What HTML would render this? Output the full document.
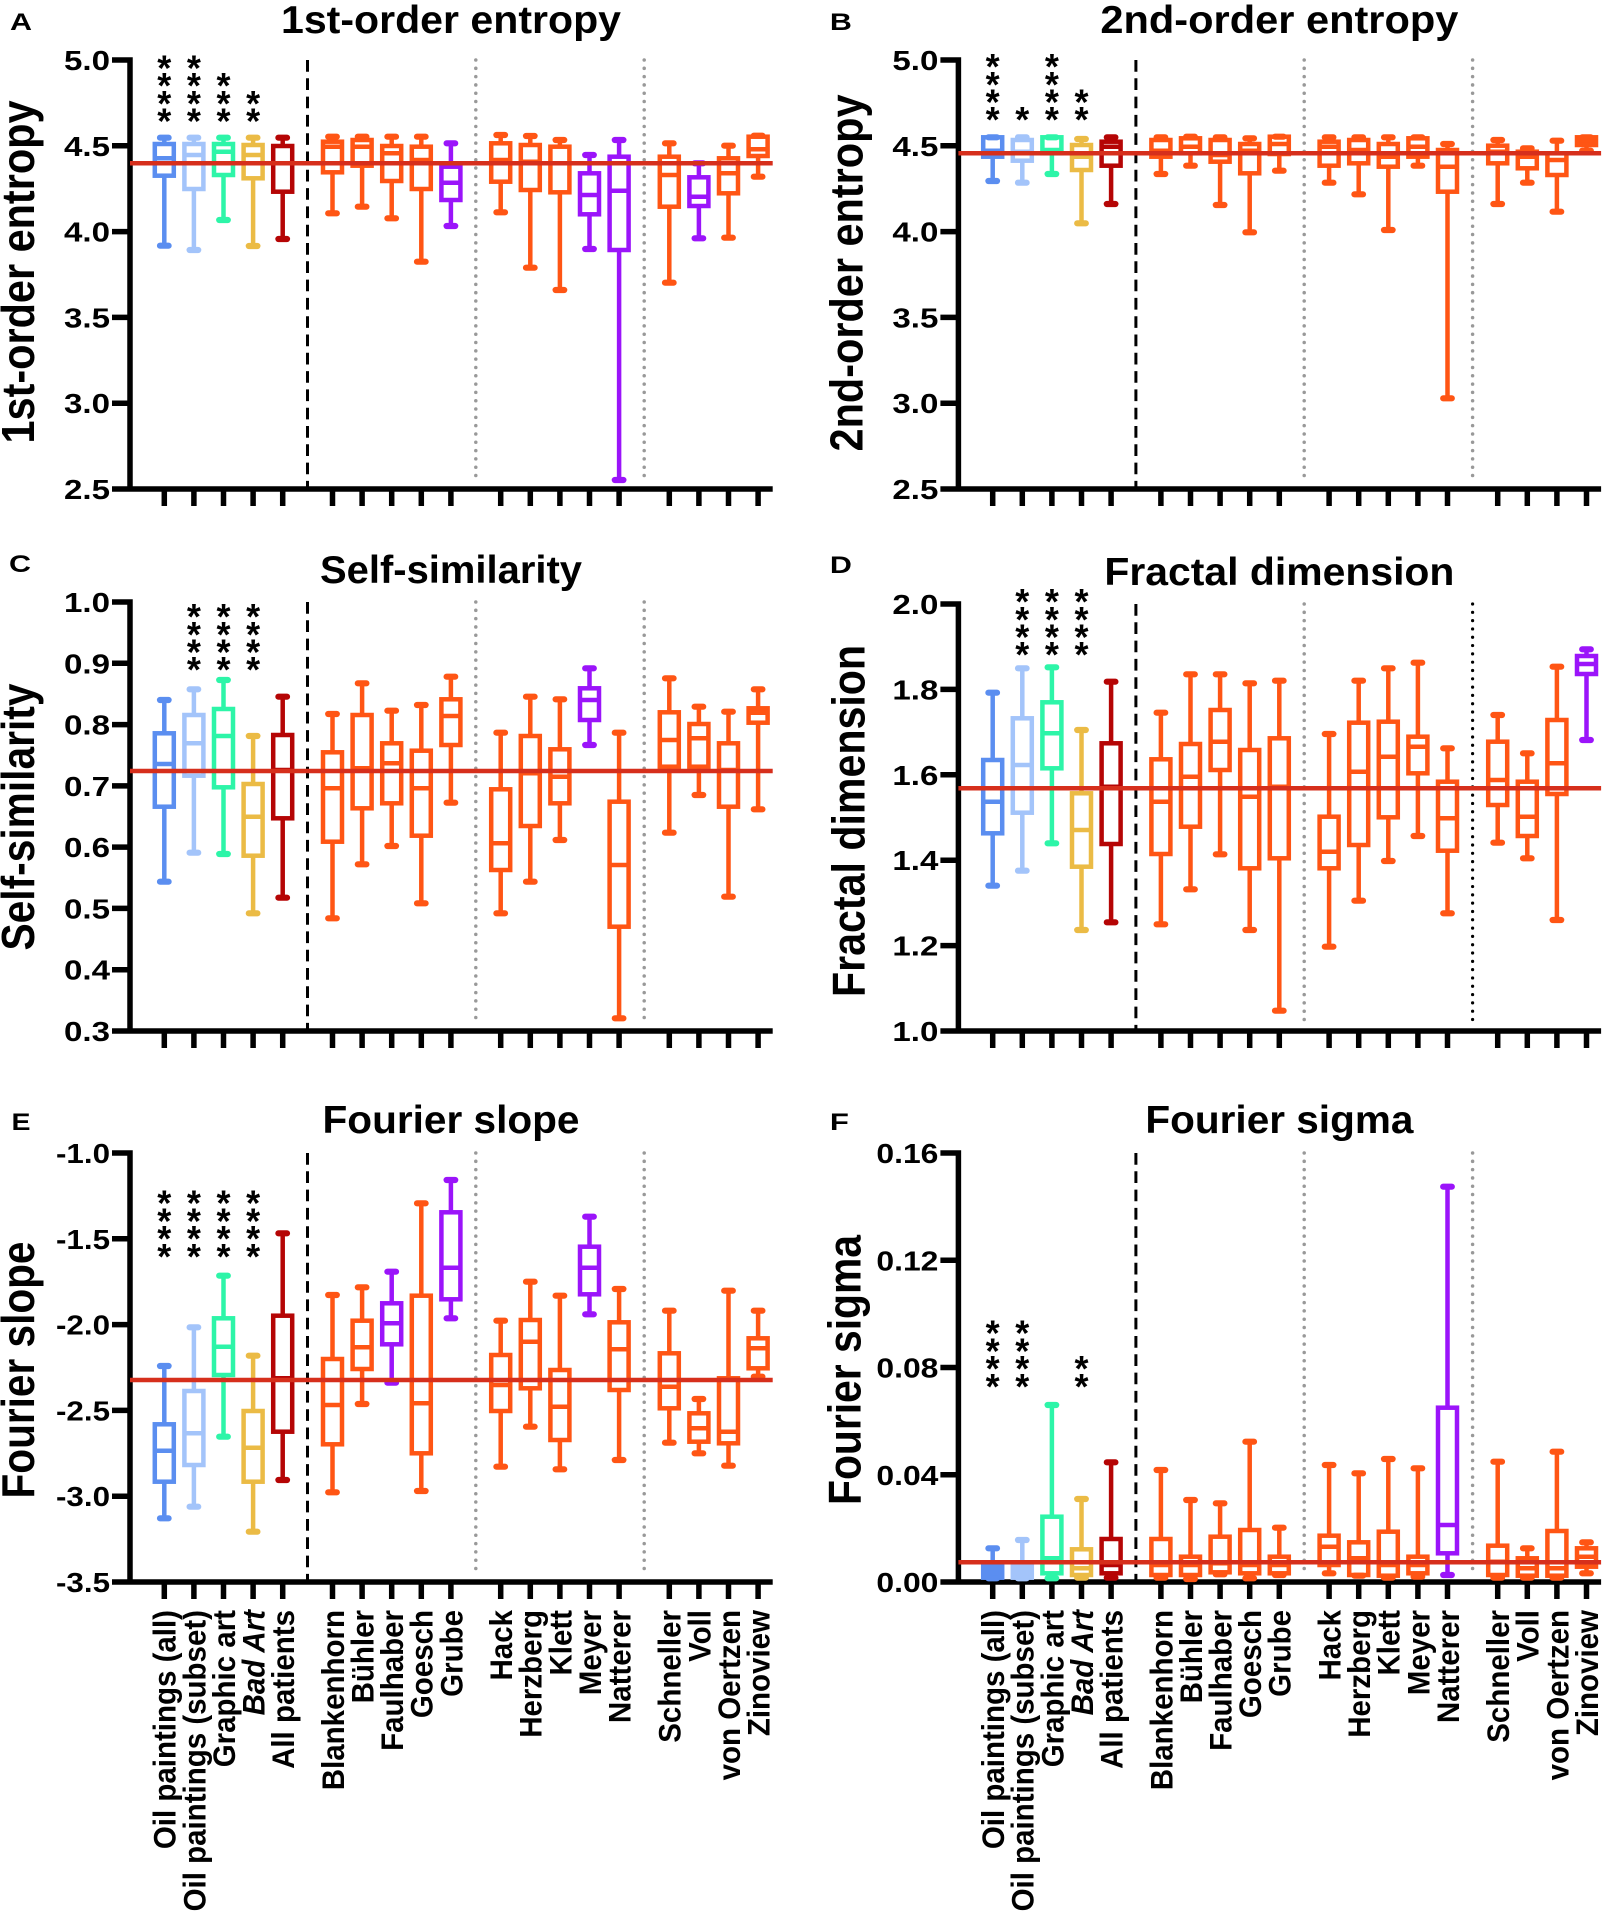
<!DOCTYPE html>
<html><head><meta charset="utf-8"><style>
body{margin:0;background:#fff}
svg{display:block}
text{font-family:"Liberation Sans",Arial,sans-serif;fill:#000}
.t{font-weight:bold;font-size:39px;text-anchor:middle}
.yl{font-weight:bold;font-size:41px;text-anchor:middle}
.tk{font-weight:bold;font-size:28px;text-anchor:end}
.xl{font-weight:bold;font-size:29.5px;text-anchor:end}
.s{font-size:36px;font-weight:bold;text-anchor:middle}
.L{font-weight:bold;font-size:24px}
.ax{fill:none;stroke:#000;stroke-width:5.5}
.bx path,.bx rect{fill:none;stroke-width:4.5}
.bx .c{stroke-width:6.2;stroke-linecap:round}
.ref{stroke:#D62F1C;stroke-width:4.5;fill:none}
.dash{stroke:#000;stroke-width:3;stroke-dasharray:11.7 6.6;fill:none}
.dot{stroke:#999;stroke-width:3.5;stroke-dasharray:0.01 8.3;stroke-linecap:round;fill:none}
.dotk{stroke:#000;stroke-width:3.2;stroke-dasharray:0.01 8.3;stroke-linecap:round;fill:none}
.b{stroke:#5B8EF0}.l{stroke:#A3C4FA}.g{stroke:#2DF5A8}.y{stroke:#EBBB45}.d{stroke:#B50505}.o{stroke:#FF5514}.p{stroke:#9B14FA}
</style></head><body>
<svg width="1617" height="1922" viewBox="0 0 1617 1922" xmlns="http://www.w3.org/2000/svg">

<!-- ================= LEFT COLUMN ================= -->
<g>
<!-- Panel A -->
<text class="L" x="10" y="30" textLength="22" lengthAdjust="spacingAndGlyphs">A</text>
<text class="t" x="451" y="33" textLength="340" lengthAdjust="spacingAndGlyphs">1st-order entropy</text>
<text class="yl" transform="translate(34,272) rotate(-90) scale(1,1.12)" textLength="343" lengthAdjust="spacingAndGlyphs">1st-order entropy</text>
<line class="dash" x1="307.5" y1="60" x2="307.5" y2="489"/>
<line class="dot" x1="475.8" y1="60" x2="475.8" y2="483"/>
<line class="dot" x1="644.2" y1="60" x2="644.2" y2="483"/>
<path class="ax" d="M130 57.25V491.75M112 489H772.7M112 60H130M112 145.8H130M112 231.6H130M112 317.4H130M112 403.2H130"/>
<path class="ax" transform="translate(0,489)" d="M164.3 0v17M193.9 0v17M223.5 0v17M253.1 0v17M282.7 0v17M332.5 0v17M362.1 0v17M391.7 0v17M421.3 0v17M450.9 0v17M500.7 0v17M530.3 0v17M559.9 0v17M589.5 0v17M619.1 0v17M669.3 0v17M698.9 0v17M728.5 0v17M758.1 0v17"/>
<text class="tk" x="110" y="70" textLength="46" lengthAdjust="spacingAndGlyphs">5.0</text>
<text class="tk" x="110" y="155.8" textLength="46" lengthAdjust="spacingAndGlyphs">4.5</text>
<text class="tk" x="110" y="241.6" textLength="46" lengthAdjust="spacingAndGlyphs">4.0</text>
<text class="tk" x="110" y="327.4" textLength="46" lengthAdjust="spacingAndGlyphs">3.5</text>
<text class="tk" x="110" y="413.2" textLength="46" lengthAdjust="spacingAndGlyphs">3.0</text>
<text class="tk" x="110" y="499" textLength="46" lengthAdjust="spacingAndGlyphs">2.5</text>
<text class="s" x="164.3 164.3 164.3 164.3" y="80.4 98.1 115.8 133.5">****</text>
<text class="s" x="193.9 193.9 193.9 193.9" y="80.4 98.1 115.8 133.5">****</text>
<text class="s" x="223.5 223.5 223.5" y="98.1 115.8 133.5">***</text>
<text class="s" x="253.1 253.1" y="115.8 133.5">**</text>
<g class="bx">
<g class="b"><path d="M164.3 137.7V144M164.3 175.7V245.7M154.8 158.3h19"/><rect x="154.8" y="144" width="19" height="31.7"/><path class="c" d="M160 137.7h8.6M160 245.7h8.6"/></g>
<g class="l"><path d="M193.9 137.7V144M193.9 189V250M184.4 155h19"/><rect x="184.4" y="144" width="19" height="45"/><path class="c" d="M189.6 137.7h8.6M189.6 250h8.6"/></g>
<g class="g"><path d="M223.5 137.7V144M223.5 175V220M214 151.7h19"/><rect x="214" y="144" width="19" height="31"/><path class="c" d="M219.2 137.7h8.6M219.2 220h8.6"/></g>
<g class="y"><path d="M253.1 137.7V145M253.1 178.3V246M243.6 155h19"/><rect x="243.6" y="145" width="19" height="33.3"/><path class="c" d="M248.8 137.7h8.6M248.8 246h8.6"/></g>
<g class="d"><path d="M282.7 137.7V146M282.7 191.7V239M273.2 163.3h19"/><rect x="273.2" y="146" width="19" height="45.7"/><path class="c" d="M278.4 137.7h8.6M278.4 239h8.6"/></g>
<g class="o"><path d="M332.5 136.7V141.7M332.5 172.3V213.3M323 146.7h19"/><rect x="323" y="141.7" width="19" height="30.6"/><path class="c" d="M328.2 136.7h8.6M328.2 213.3h8.6"/></g>
<g class="o"><path d="M362.1 136.7V140M362.1 165.7V206.7M352.6 146.7h19"/><rect x="352.6" y="140" width="19" height="25.7"/><path class="c" d="M357.8 136.7h8.6M357.8 206.7h8.6"/></g>
<g class="o"><path d="M391.7 136.7V146M391.7 181V218.3M382.2 153.3h19"/><rect x="382.2" y="146" width="19" height="35"/><path class="c" d="M387.4 136.7h8.6M387.4 218.3h8.6"/></g>
<g class="o"><path d="M421.3 136.7V146.7M421.3 189V261.7M411.8 160h19"/><rect x="411.8" y="146.7" width="19" height="42.3"/><path class="c" d="M417 136.7h8.6M417 261.7h8.6"/></g>
<g class="p"><path d="M450.9 143.3V166.7M450.9 200V226M441.4 182.7h19"/><rect x="441.4" y="166.7" width="19" height="33.3"/><path class="c" d="M446.6 143.3h8.6M446.6 226h8.6"/></g>
<g class="o"><path d="M500.7 135V143.3M500.7 181.7V212.3M491.2 160h19"/><rect x="491.2" y="143.3" width="19" height="38.4"/><path class="c" d="M496.4 135h8.6M496.4 212.3h8.6"/></g>
<g class="o"><path d="M530.3 136V145M530.3 190V267.7M520.8 161.7h19"/><rect x="520.8" y="145" width="19" height="45"/><path class="c" d="M526 136h8.6M526 267.7h8.6"/></g>
<g class="o"><path d="M559.9 140V146.7M559.9 192.3V290M550.4 163.3h19"/><rect x="550.4" y="146.7" width="19" height="45.6"/><path class="c" d="M555.6 140h8.6M555.6 290h8.6"/></g>
<g class="p"><path d="M589.5 155V173.3M589.5 214.3V249M580 195h19"/><rect x="580" y="173.3" width="19" height="41"/><path class="c" d="M585.2 155h8.6M585.2 249h8.6"/></g>
<g class="p"><path d="M619.1 140V156.7M619.1 250V480M609.6 190.7h19"/><rect x="609.6" y="156.7" width="19" height="93.3"/><path class="c" d="M614.8 140h8.6M614.8 480h8.6"/></g>
<g class="o"><path d="M669.3 143.3V156.7M669.3 206.7V282.7M659.8 175h19"/><rect x="659.8" y="156.7" width="19" height="50"/><path class="c" d="M665 143.3h8.6M665 282.7h8.6"/></g>
<g class="p"><path d="M698.9 163.3V177.3M698.9 206V238.3M689.4 196.7h19"/><rect x="689.4" y="177.3" width="19" height="28.7"/><path class="c" d="M694.6 163.3h8.6M694.6 238.3h8.6"/></g>
<g class="o"><path d="M728.5 145.7V158.3M728.5 193.3V237.7M719 173.3h19"/><rect x="719" y="158.3" width="19" height="35"/><path class="c" d="M724.2 145.7h8.6M724.2 237.7h8.6"/></g>
<g class="o"><path d="M758.1 135.7V136.7M758.1 156V176.7M748.6 149.3h19"/><rect x="748.6" y="136.7" width="19" height="19.3"/><path class="c" d="M753.8 135.7h8.6M753.8 176.7h8.6"/></g>
</g>
<path class="ref" d="M130 163.3H772.7"/>

<!-- Panel C -->
<text class="L" x="9" y="572" textLength="22" lengthAdjust="spacingAndGlyphs">C</text>
<text class="t" x="451" y="583" textLength="262" lengthAdjust="spacingAndGlyphs">Self-similarity</text>
<text class="yl" transform="translate(34,817) rotate(-90) scale(1,1.12)" textLength="267" lengthAdjust="spacingAndGlyphs">Self-similarity</text>
<line class="dash" x1="307.5" y1="602" x2="307.5" y2="1031"/>
<line class="dot" x1="475.8" y1="602" x2="475.8" y2="1025"/>
<line class="dot" x1="644.2" y1="602" x2="644.2" y2="1025"/>
<path class="ax" d="M130 599.25V1033.75M112 1031H772.7M112 602H130M112 663.3H130M112 724.6H130M112 785.9H130M112 847.1H130M112 908.4H130M112 969.7H130"/>
<path class="ax" transform="translate(0,1031)" d="M164.3 0v17M193.9 0v17M223.5 0v17M253.1 0v17M282.7 0v17M332.5 0v17M362.1 0v17M391.7 0v17M421.3 0v17M450.9 0v17M500.7 0v17M530.3 0v17M559.9 0v17M589.5 0v17M619.1 0v17M669.3 0v17M698.9 0v17M728.5 0v17M758.1 0v17"/>
<text class="tk" x="110" y="612" textLength="46" lengthAdjust="spacingAndGlyphs">1.0</text>
<text class="tk" x="110" y="673.3" textLength="46" lengthAdjust="spacingAndGlyphs">0.9</text>
<text class="tk" x="110" y="734.6" textLength="46" lengthAdjust="spacingAndGlyphs">0.8</text>
<text class="tk" x="110" y="795.9" textLength="46" lengthAdjust="spacingAndGlyphs">0.7</text>
<text class="tk" x="110" y="857.1" textLength="46" lengthAdjust="spacingAndGlyphs">0.6</text>
<text class="tk" x="110" y="918.4" textLength="46" lengthAdjust="spacingAndGlyphs">0.5</text>
<text class="tk" x="110" y="979.7" textLength="46" lengthAdjust="spacingAndGlyphs">0.4</text>
<text class="tk" x="110" y="1041" textLength="46" lengthAdjust="spacingAndGlyphs">0.3</text>
<text class="s" x="193.9 193.9 193.9 193.9" y="629.1 646.8 664.5 682.2">****</text>
<text class="s" x="223.5 223.5 223.5 223.5" y="629.1 646.8 664.5 682.2">****</text>
<text class="s" x="253.1 253.1 253.1 253.1" y="629.1 646.8 664.5 682.2">****</text>
<g class="bx">
<g class="b"><path d="M164.3 700V733.3M164.3 806.7V881.7M154.8 764h19"/><rect x="154.8" y="733.3" width="19" height="73.4"/><path class="c" d="M160 700h8.6M160 881.7h8.6"/></g>
<g class="l"><path d="M193.9 689.3V715M193.9 775.7V852.7M184.4 743.3h19"/><rect x="184.4" y="715" width="19" height="60.7"/><path class="c" d="M189.6 689.3h8.6M189.6 852.7h8.6"/></g>
<g class="g"><path d="M223.5 680V709M223.5 787.3V854M214 736h19"/><rect x="214" y="709" width="19" height="78.3"/><path class="c" d="M219.2 680h8.6M219.2 854h8.6"/></g>
<g class="y"><path d="M253.1 736V784M253.1 855.7V913.3M243.6 816.7h19"/><rect x="243.6" y="784" width="19" height="71.7"/><path class="c" d="M248.8 736h8.6M248.8 913.3h8.6"/></g>
<g class="d"><path d="M282.7 696.7V735M282.7 818.3V897.7M273.2 770h19"/><rect x="273.2" y="735" width="19" height="83.3"/><path class="c" d="M278.4 696.7h8.6M278.4 897.7h8.6"/></g>
<g class="o"><path d="M332.5 714V752.3M332.5 841.7V918.3M323 788.3h19"/><rect x="323" y="752.3" width="19" height="89.4"/><path class="c" d="M328.2 714h8.6M328.2 918.3h8.6"/></g>
<g class="o"><path d="M362.1 683.3V715M362.1 808.3V864.3M352.6 768.3h19"/><rect x="352.6" y="715" width="19" height="93.3"/><path class="c" d="M357.8 683.3h8.6M357.8 864.3h8.6"/></g>
<g class="o"><path d="M391.7 710.7V743.3M391.7 803.3V846M382.2 763.3h19"/><rect x="382.2" y="743.3" width="19" height="60"/><path class="c" d="M387.4 710.7h8.6M387.4 846h8.6"/></g>
<g class="o"><path d="M421.3 705V750.7M421.3 835.7V903.3M411.8 788.3h19"/><rect x="411.8" y="750.7" width="19" height="85"/><path class="c" d="M417 705h8.6M417 903.3h8.6"/></g>
<g class="o"><path d="M450.9 676.7V699.3M450.9 745V802.7M441.4 716h19"/><rect x="441.4" y="699.3" width="19" height="45.7"/><path class="c" d="M446.6 676.7h8.6M446.6 802.7h8.6"/></g>
<g class="o"><path d="M500.7 732.7V789.3M500.7 870V913.3M491.2 843.3h19"/><rect x="491.2" y="789.3" width="19" height="80.7"/><path class="c" d="M496.4 732.7h8.6M496.4 913.3h8.6"/></g>
<g class="o"><path d="M530.3 696.7V736M530.3 826V881.7M520.8 773.3h19"/><rect x="520.8" y="736" width="19" height="90"/><path class="c" d="M526 696.7h8.6M526 881.7h8.6"/></g>
<g class="o"><path d="M559.9 699.3V749.3M559.9 803.3V840M550.4 776.7h19"/><rect x="550.4" y="749.3" width="19" height="54"/><path class="c" d="M555.6 699.3h8.6M555.6 840h8.6"/></g>
<g class="p"><path d="M589.5 668.3V688.3M589.5 720V745M580 700h19"/><rect x="580" y="688.3" width="19" height="31.7"/><path class="c" d="M585.2 668.3h8.6M585.2 745h8.6"/></g>
<g class="o"><path d="M619.1 732.7V801.7M619.1 926.7V1018.3M609.6 865h19"/><rect x="609.6" y="801.7" width="19" height="125"/><path class="c" d="M614.8 732.7h8.6M614.8 1018.3h8.6"/></g>
<g class="o"><path d="M669.3 678.3V712.3M669.3 766.7V832.7M659.8 740h19"/><rect x="659.8" y="712.3" width="19" height="54.4"/><path class="c" d="M665 678.3h8.6M665 832.7h8.6"/></g>
<g class="o"><path d="M698.9 706.7V724M698.9 766.7V795M689.4 738.3h19"/><rect x="689.4" y="724" width="19" height="42.7"/><path class="c" d="M694.6 706.7h8.6M694.6 795h8.6"/></g>
<g class="o"><path d="M728.5 711.7V743.3M728.5 806.7V896.7M719 770h19"/><rect x="719" y="743.3" width="19" height="63.4"/><path class="c" d="M724.2 711.7h8.6M724.2 896.7h8.6"/></g>
<g class="o"><path d="M758.1 689.3V708.3M758.1 722.7V809.3M748.6 712.7h19"/><rect x="748.6" y="708.3" width="19" height="14.4"/><path class="c" d="M753.8 689.3h8.6M753.8 809.3h8.6"/></g>
</g>
<path class="ref" d="M130 771H772.7"/>

<!-- Panel E -->
<text class="L" x="11.5" y="1130" textLength="19" lengthAdjust="spacingAndGlyphs">E</text>
<text class="t" x="451" y="1133" textLength="257" lengthAdjust="spacingAndGlyphs">Fourier slope</text>
<text class="yl" transform="translate(34,1370) rotate(-90) scale(1,1.12)" textLength="257" lengthAdjust="spacingAndGlyphs">Fourier slope</text>
<line class="dash" x1="307.5" y1="1153" x2="307.5" y2="1582"/>
<line class="dot" x1="475.8" y1="1153" x2="475.8" y2="1576"/>
<line class="dot" x1="644.2" y1="1153" x2="644.2" y2="1576"/>
<path class="ax" d="M130 1150.25V1584.75M112 1582H772.7M112 1153H130M112 1238.8H130M112 1324.6H130M112 1410.4H130M112 1496.2H130"/>
<path class="ax" transform="translate(0,1582)" d="M164.3 0v17M193.9 0v17M223.5 0v17M253.1 0v17M282.7 0v17M332.5 0v17M362.1 0v17M391.7 0v17M421.3 0v17M450.9 0v17M500.7 0v17M530.3 0v17M559.9 0v17M589.5 0v17M619.1 0v17M669.3 0v17M698.9 0v17M728.5 0v17M758.1 0v17"/>
<text class="tk" x="110" y="1163" textLength="54" lengthAdjust="spacingAndGlyphs">-1.0</text>
<text class="tk" x="110" y="1248.8" textLength="54" lengthAdjust="spacingAndGlyphs">-1.5</text>
<text class="tk" x="110" y="1334.6" textLength="54" lengthAdjust="spacingAndGlyphs">-2.0</text>
<text class="tk" x="110" y="1420.4" textLength="54" lengthAdjust="spacingAndGlyphs">-2.5</text>
<text class="tk" x="110" y="1506.2" textLength="54" lengthAdjust="spacingAndGlyphs">-3.0</text>
<text class="tk" x="110" y="1592" textLength="54" lengthAdjust="spacingAndGlyphs">-3.5</text>
<text class="s" x="164.3 164.3 164.3 164.3" y="1215.7 1233.4 1251.1 1268.8">****</text>
<text class="s" x="193.9 193.9 193.9 193.9" y="1215.7 1233.4 1251.1 1268.8">****</text>
<text class="s" x="223.5 223.5 223.5 223.5" y="1215.7 1233.4 1251.1 1268.8">****</text>
<text class="s" x="253.1 253.1 253.1 253.1" y="1215.7 1233.4 1251.1 1268.8">****</text>
<g class="bx">
<g class="b"><path d="M164.3 1366V1424.3M164.3 1481.7V1518.3M154.8 1450.7h19"/><rect x="154.8" y="1424.3" width="19" height="57.4"/><path class="c" d="M160 1366h8.6M160 1518.3h8.6"/></g>
<g class="l"><path d="M193.9 1327.3V1391M193.9 1465V1506.7M184.4 1433.3h19"/><rect x="184.4" y="1391" width="19" height="74"/><path class="c" d="M189.6 1327.3h8.6M189.6 1506.7h8.6"/></g>
<g class="g"><path d="M223.5 1275.7V1318.3M223.5 1375V1436.7M214 1346.7h19"/><rect x="214" y="1318.3" width="19" height="56.7"/><path class="c" d="M219.2 1275.7h8.6M219.2 1436.7h8.6"/></g>
<g class="y"><path d="M253.1 1355.7V1411M253.1 1481.7V1531.7M243.6 1447.7h19"/><rect x="243.6" y="1411" width="19" height="70.7"/><path class="c" d="M248.8 1355.7h8.6M248.8 1531.7h8.6"/></g>
<g class="d"><path d="M282.7 1233.3V1315.7M282.7 1431.7V1480M273.2 1378.3h19"/><rect x="273.2" y="1315.7" width="19" height="116"/><path class="c" d="M278.4 1233.3h8.6M278.4 1480h8.6"/></g>
<g class="o"><path d="M332.5 1295V1359M332.5 1444.3V1492.3M323 1405h19"/><rect x="323" y="1359" width="19" height="85.3"/><path class="c" d="M328.2 1295h8.6M328.2 1492.3h8.6"/></g>
<g class="o"><path d="M362.1 1287.3V1320.7M362.1 1369V1404M352.6 1347.3h19"/><rect x="352.6" y="1320.7" width="19" height="48.3"/><path class="c" d="M357.8 1287.3h8.6M357.8 1404h8.6"/></g>
<g class="p"><path d="M391.7 1271.7V1303.3M391.7 1344.3V1382.7M382.2 1323.3h19"/><rect x="382.2" y="1303.3" width="19" height="41"/><path class="c" d="M387.4 1271.7h8.6M387.4 1382.7h8.6"/></g>
<g class="o"><path d="M421.3 1203.3V1295.7M421.3 1453.3V1491M411.8 1403.3h19"/><rect x="411.8" y="1295.7" width="19" height="157.6"/><path class="c" d="M417 1203.3h8.6M417 1491h8.6"/></g>
<g class="p"><path d="M450.9 1180V1212.3M450.9 1299.3V1318.3M441.4 1267.7h19"/><rect x="441.4" y="1212.3" width="19" height="87"/><path class="c" d="M446.6 1180h8.6M446.6 1318.3h8.6"/></g>
<g class="o"><path d="M500.7 1320.7V1355M500.7 1411V1466.7M491.2 1385h19"/><rect x="491.2" y="1355" width="19" height="56"/><path class="c" d="M496.4 1320.7h8.6M496.4 1466.7h8.6"/></g>
<g class="o"><path d="M530.3 1281.7V1320M530.3 1388.3V1426.7M520.8 1341.7h19"/><rect x="520.8" y="1320" width="19" height="68.3"/><path class="c" d="M526 1281.7h8.6M526 1426.7h8.6"/></g>
<g class="o"><path d="M559.9 1295.7V1370M559.9 1440V1469.3M550.4 1406.7h19"/><rect x="550.4" y="1370" width="19" height="70"/><path class="c" d="M555.6 1295.7h8.6M555.6 1469.3h8.6"/></g>
<g class="p"><path d="M589.5 1216.7V1246.7M589.5 1294.3V1314.3M580 1267.7h19"/><rect x="580" y="1246.7" width="19" height="47.6"/><path class="c" d="M585.2 1216.7h8.6M585.2 1314.3h8.6"/></g>
<g class="o"><path d="M619.1 1289V1322.3M619.1 1390V1460M609.6 1349.3h19"/><rect x="609.6" y="1322.3" width="19" height="67.7"/><path class="c" d="M614.8 1289h8.6M614.8 1460h8.6"/></g>
<g class="o"><path d="M669.3 1310.7V1353.3M669.3 1408.3V1442.7M659.8 1386.7h19"/><rect x="659.8" y="1353.3" width="19" height="55"/><path class="c" d="M665 1310.7h8.6M665 1442.7h8.6"/></g>
<g class="o"><path d="M698.9 1399V1413.3M698.9 1441.7V1453.3M689.4 1428.3h19"/><rect x="689.4" y="1413.3" width="19" height="28.4"/><path class="c" d="M694.6 1399h8.6M694.6 1453.3h8.6"/></g>
<g class="o"><path d="M728.5 1290.7V1378.3M728.5 1443.3V1465.7M719 1431.7h19"/><rect x="719" y="1378.3" width="19" height="65"/><path class="c" d="M724.2 1290.7h8.6M724.2 1465.7h8.6"/></g>
<g class="o"><path d="M758.1 1310.7V1338.3M758.1 1368.3V1376.7M748.6 1348.3h19"/><rect x="748.6" y="1338.3" width="19" height="30"/><path class="c" d="M753.8 1310.7h8.6M753.8 1376.7h8.6"/></g>
</g>
<path class="ref" d="M130 1380H772.7"/>

<!-- X labels left -->
<g>
<text class="xl" transform="translate(175.7,1610) rotate(-90) scale(1,1.08)">Oil paintings (all)</text>
<text class="xl" transform="translate(205.3,1610) rotate(-90) scale(1,1.08)">Oil paintings (subset)</text>
<text class="xl" transform="translate(234.9,1610) rotate(-90) scale(1,1.08)">Graphic art</text>
<text class="xl" transform="translate(264.5,1610) rotate(-90) scale(1,1.08)" font-style="italic">Bad Art</text>
<text class="xl" transform="translate(294.1,1610) rotate(-90) scale(1,1.08)">All patients</text>
<text class="xl" transform="translate(343.9,1610) rotate(-90) scale(1,1.08)">Blankenhorn</text>
<text class="xl" transform="translate(373.5,1610) rotate(-90) scale(1,1.08)">Bühler</text>
<text class="xl" transform="translate(403.1,1610) rotate(-90) scale(1,1.08)">Faulhaber</text>
<text class="xl" transform="translate(432.7,1610) rotate(-90) scale(1,1.08)">Goesch</text>
<text class="xl" transform="translate(462.3,1610) rotate(-90) scale(1,1.08)">Grube</text>
<text class="xl" transform="translate(512.1,1610) rotate(-90) scale(1,1.08)">Hack</text>
<text class="xl" transform="translate(541.7,1610) rotate(-90) scale(1,1.08)">Herzberg</text>
<text class="xl" transform="translate(571.3,1610) rotate(-90) scale(1,1.08)">Klett</text>
<text class="xl" transform="translate(600.9,1610) rotate(-90) scale(1,1.08)">Meyer</text>
<text class="xl" transform="translate(630.5,1610) rotate(-90) scale(1,1.08)">Natterer</text>
<text class="xl" transform="translate(680.7,1610) rotate(-90) scale(1,1.08)">Schneller</text>
<text class="xl" transform="translate(710.3,1610) rotate(-90) scale(1,1.08)">Voll</text>
<text class="xl" transform="translate(739.9,1610) rotate(-90) scale(1,1.08)">von Oertzen</text>
<text class="xl" transform="translate(769.5,1610) rotate(-90) scale(1,1.08)">Zinoview</text>
</g>
</g>

<!-- ================= RIGHT COLUMN ================= -->
<g transform="translate(828.4,0)">
<!-- Panel B -->
<text class="L" x="1.5" y="30" textLength="22" lengthAdjust="spacingAndGlyphs">B</text>
<text class="t" x="451" y="33" textLength="358" lengthAdjust="spacingAndGlyphs">2nd-order entropy</text>
<text class="yl" transform="translate(34,273) rotate(-90) scale(1,1.12)" textLength="357" lengthAdjust="spacingAndGlyphs">2nd-order entropy</text>
<line class="dash" x1="307.5" y1="60" x2="307.5" y2="489"/>
<line class="dot" x1="475.8" y1="60" x2="475.8" y2="483"/>
<line class="dot" x1="644.2" y1="60" x2="644.2" y2="483"/>
<path class="ax" d="M130 57.25V491.75M112 489H772.7M112 60H130M112 145.8H130M112 231.6H130M112 317.4H130M112 403.2H130"/>
<path class="ax" transform="translate(0,489)" d="M164.3 0v17M193.9 0v17M223.5 0v17M253.1 0v17M282.7 0v17M332.5 0v17M362.1 0v17M391.7 0v17M421.3 0v17M450.9 0v17M500.7 0v17M530.3 0v17M559.9 0v17M589.5 0v17M619.1 0v17M669.3 0v17M698.9 0v17M728.5 0v17M758.1 0v17"/>
<text class="tk" x="110" y="70" textLength="46" lengthAdjust="spacingAndGlyphs">5.0</text>
<text class="tk" x="110" y="155.8" textLength="46" lengthAdjust="spacingAndGlyphs">4.5</text>
<text class="tk" x="110" y="241.6" textLength="46" lengthAdjust="spacingAndGlyphs">4.0</text>
<text class="tk" x="110" y="327.4" textLength="46" lengthAdjust="spacingAndGlyphs">3.5</text>
<text class="tk" x="110" y="413.2" textLength="46" lengthAdjust="spacingAndGlyphs">3.0</text>
<text class="tk" x="110" y="499" textLength="46" lengthAdjust="spacingAndGlyphs">2.5</text>
<text class="s" x="164.3 164.3 164.3 164.3" y="79.1 96.8 114.5 132.2">****</text>
<text class="s" x="193.9" y="132.2">*</text>
<text class="s" x="223.5 223.5 223.5 223.5" y="79.1 96.8 114.5 132.2">****</text>
<text class="s" x="253.1 253.1" y="114.5 132.2">**</text>
<g class="bx">
<g class="b"><path d="M164.3 156.7V181M154.8 150.7h19"/><rect x="154.8" y="137.3" width="19" height="19.4"/><path class="c" d="M160 137.3h8.6M160 181h8.6"/></g>
<g class="l"><path d="M193.9 137.3V140M193.9 160.7V182.7M184.4 151.7h19"/><rect x="184.4" y="140" width="19" height="20.7"/><path class="c" d="M189.6 137.3h8.6M189.6 182.7h8.6"/></g>
<g class="g"><path d="M223.5 153.3V174M214 150h19"/><rect x="214" y="137.3" width="19" height="16"/><path class="c" d="M219.2 137.3h8.6M219.2 174h8.6"/></g>
<g class="y"><path d="M253.1 139V145M253.1 170V223.3M243.6 156.7h19"/><rect x="243.6" y="145" width="19" height="25"/><path class="c" d="M248.8 139h8.6M248.8 223.3h8.6"/></g>
<g class="d"><path d="M282.7 137.3V141.7M282.7 165.7V204M273.2 146.7h19"/><rect x="273.2" y="141.7" width="19" height="24"/><path class="c" d="M278.4 137.3h8.6M278.4 204h8.6"/></g>
<g class="o"><path d="M332.5 137.3V140M332.5 156.7V174M323 150.7h19"/><rect x="323" y="140" width="19" height="16.7"/><path class="c" d="M328.2 137.3h8.6M328.2 174h8.6"/></g>
<g class="o"><path d="M362.1 136.7V138.3M362.1 153.3V165.7M352.6 146.7h19"/><rect x="352.6" y="138.3" width="19" height="15"/><path class="c" d="M357.8 136.7h8.6M357.8 165.7h8.6"/></g>
<g class="o"><path d="M391.7 137.3V140M391.7 161.7V205M382.2 155h19"/><rect x="382.2" y="140" width="19" height="21.7"/><path class="c" d="M387.4 137.3h8.6M387.4 205h8.6"/></g>
<g class="o"><path d="M421.3 138.3V144M421.3 173.3V232.3M411.8 150.7h19"/><rect x="411.8" y="144" width="19" height="29.3"/><path class="c" d="M417 138.3h8.6M417 232.3h8.6"/></g>
<g class="o"><path d="M450.9 154V170.7M441.4 144h19"/><rect x="441.4" y="136.7" width="19" height="17.3"/><path class="c" d="M446.6 136.7h8.6M446.6 170.7h8.6"/></g>
<g class="o"><path d="M500.7 137.3V141.7M500.7 165.7V182.7M491.2 146.7h19"/><rect x="491.2" y="141.7" width="19" height="24"/><path class="c" d="M496.4 137.3h8.6M496.4 182.7h8.6"/></g>
<g class="o"><path d="M530.3 137.3V140M530.3 163.3V194.3M520.8 150h19"/><rect x="520.8" y="140" width="19" height="23.3"/><path class="c" d="M526 137.3h8.6M526 194.3h8.6"/></g>
<g class="o"><path d="M559.9 137.3V144M559.9 166.7V230M550.4 156.7h19"/><rect x="550.4" y="144" width="19" height="22.7"/><path class="c" d="M555.6 137.3h8.6M555.6 230h8.6"/></g>
<g class="o"><path d="M589.5 137.3V138.3M589.5 156.7V165.7M580 146.7h19"/><rect x="580" y="138.3" width="19" height="18.4"/><path class="c" d="M585.2 137.3h8.6M585.2 165.7h8.6"/></g>
<g class="o"><path d="M619.1 144V150M619.1 191.7V398.3M609.6 166.7h19"/><rect x="609.6" y="150" width="19" height="41.7"/><path class="c" d="M614.8 144h8.6M614.8 398.3h8.6"/></g>
<g class="o"><path d="M669.3 140V145.7M669.3 163.3V204M659.8 151.7h19"/><rect x="659.8" y="145.7" width="19" height="17.6"/><path class="c" d="M665 140h8.6M665 204h8.6"/></g>
<g class="o"><path d="M698.9 148.3V151.7M698.9 168.3V182.7M689.4 156.7h19"/><rect x="689.4" y="151.7" width="19" height="16.6"/><path class="c" d="M694.6 148.3h8.6M694.6 182.7h8.6"/></g>
<g class="o"><path d="M728.5 140.7V153.3M728.5 175V211.7M719 160h19"/><rect x="719" y="153.3" width="19" height="21.7"/><path class="c" d="M724.2 140.7h8.6M724.2 211.7h8.6"/></g>
<g class="o"><path d="M758.1 145V150.7M748.6 141.7h19"/><rect x="748.6" y="137.3" width="19" height="7.7"/><path class="c" d="M753.8 137.3h8.6M753.8 150.7h8.6"/></g>
</g>
<path class="ref" d="M130 153.3H772.7"/>

<!-- Panel D -->
<text class="L" x="1.5" y="573" textLength="22" lengthAdjust="spacingAndGlyphs">D</text>
<text class="t" x="451" y="585" textLength="350" lengthAdjust="spacingAndGlyphs">Fractal dimension</text>
<text class="yl" transform="translate(36,821) rotate(-90) scale(1,1.12)" textLength="352" lengthAdjust="spacingAndGlyphs">Fractal dimension</text>
<line class="dash" x1="307.5" y1="604" x2="307.5" y2="1031"/>
<line class="dot" x1="475.8" y1="604" x2="475.8" y2="1025"/>
<line class="dotk" x1="644.2" y1="604" x2="644.2" y2="1025"/>
<path class="ax" d="M130 601.25V1033.75M112 1031H772.7M112 604H130M112 689.4H130M112 774.8H130M112 860.2H130M112 945.6H130"/>
<path class="ax" transform="translate(0,1031)" d="M164.3 0v17M193.9 0v17M223.5 0v17M253.1 0v17M282.7 0v17M332.5 0v17M362.1 0v17M391.7 0v17M421.3 0v17M450.9 0v17M500.7 0v17M530.3 0v17M559.9 0v17M589.5 0v17M619.1 0v17M669.3 0v17M698.9 0v17M728.5 0v17M758.1 0v17"/>
<text class="tk" x="110" y="614" textLength="46" lengthAdjust="spacingAndGlyphs">2.0</text>
<text class="tk" x="110" y="699.4" textLength="46" lengthAdjust="spacingAndGlyphs">1.8</text>
<text class="tk" x="110" y="784.8" textLength="46" lengthAdjust="spacingAndGlyphs">1.6</text>
<text class="tk" x="110" y="870.2" textLength="46" lengthAdjust="spacingAndGlyphs">1.4</text>
<text class="tk" x="110" y="955.6" textLength="46" lengthAdjust="spacingAndGlyphs">1.2</text>
<text class="tk" x="110" y="1041" textLength="46" lengthAdjust="spacingAndGlyphs">1.0</text>
<text class="s" x="193.9 193.9 193.9 193.9" y="614.1 631.8 649.5 667.2">****</text>
<text class="s" x="223.5 223.5 223.5 223.5" y="614.1 631.8 649.5 667.2">****</text>
<text class="s" x="253.1 253.1 253.1 253.1" y="614.1 631.8 649.5 667.2">****</text>
<g class="bx">
<g class="b"><path d="M164.3 692.7V760M164.3 833.3V885.7M154.8 801.7h19"/><rect x="154.8" y="760" width="19" height="73.3"/><path class="c" d="M160 692.7h8.6M160 885.7h8.6"/></g>
<g class="l"><path d="M193.9 668.3V718.3M193.9 812.7V870.7M184.4 765h19"/><rect x="184.4" y="718.3" width="19" height="94.4"/><path class="c" d="M189.6 668.3h8.6M189.6 870.7h8.6"/></g>
<g class="g"><path d="M223.5 667.3V702.3M223.5 768.3V843.3M214 733.3h19"/><rect x="214" y="702.3" width="19" height="66"/><path class="c" d="M219.2 667.3h8.6M219.2 843.3h8.6"/></g>
<g class="y"><path d="M253.1 730V793.3M253.1 866.7V930M243.6 830h19"/><rect x="243.6" y="793.3" width="19" height="73.4"/><path class="c" d="M248.8 730h8.6M248.8 930h8.6"/></g>
<g class="d"><path d="M282.7 681.7V743.3M282.7 844V922.3M273.2 786.7h19"/><rect x="273.2" y="743.3" width="19" height="100.7"/><path class="c" d="M278.4 681.7h8.6M278.4 922.3h8.6"/></g>
<g class="o"><path d="M332.5 712.7V759.3M332.5 854V924.3M323 801.7h19"/><rect x="323" y="759.3" width="19" height="94.7"/><path class="c" d="M328.2 712.7h8.6M328.2 924.3h8.6"/></g>
<g class="o"><path d="M362.1 674.3V744M362.1 826.7V889.3M352.6 776.7h19"/><rect x="352.6" y="744" width="19" height="82.7"/><path class="c" d="M357.8 674.3h8.6M357.8 889.3h8.6"/></g>
<g class="o"><path d="M391.7 674.3V710M391.7 770V854.3M382.2 741.7h19"/><rect x="382.2" y="710" width="19" height="60"/><path class="c" d="M387.4 674.3h8.6M387.4 854.3h8.6"/></g>
<g class="o"><path d="M421.3 683.3V750M421.3 868.3V930M411.8 796.7h19"/><rect x="411.8" y="750" width="19" height="118.3"/><path class="c" d="M417 683.3h8.6M417 930h8.6"/></g>
<g class="o"><path d="M450.9 680.7V738.3M450.9 858.3V1010.7M441.4 786.7h19"/><rect x="441.4" y="738.3" width="19" height="120"/><path class="c" d="M446.6 680.7h8.6M446.6 1010.7h8.6"/></g>
<g class="o"><path d="M500.7 734V816.7M500.7 868.3V946.7M491.2 851.7h19"/><rect x="491.2" y="816.7" width="19" height="51.6"/><path class="c" d="M496.4 734h8.6M496.4 946.7h8.6"/></g>
<g class="o"><path d="M530.3 680.7V722.7M530.3 845V900.7M520.8 771.7h19"/><rect x="520.8" y="722.7" width="19" height="122.3"/><path class="c" d="M526 680.7h8.6M526 900.7h8.6"/></g>
<g class="o"><path d="M559.9 668.3V721.7M559.9 817.3V861M550.4 756.7h19"/><rect x="550.4" y="721.7" width="19" height="95.6"/><path class="c" d="M555.6 668.3h8.6M555.6 861h8.6"/></g>
<g class="o"><path d="M589.5 662.7V736.7M589.5 773.3V836M580 746.7h19"/><rect x="580" y="736.7" width="19" height="36.6"/><path class="c" d="M585.2 662.7h8.6M585.2 836h8.6"/></g>
<g class="o"><path d="M619.1 748.3V781.7M619.1 850.7V913.3M609.6 818.3h19"/><rect x="609.6" y="781.7" width="19" height="69"/><path class="c" d="M614.8 748.3h8.6M614.8 913.3h8.6"/></g>
<g class="o"><path d="M669.3 715V741.7M669.3 805V842.7M659.8 780h19"/><rect x="659.8" y="741.7" width="19" height="63.3"/><path class="c" d="M665 715h8.6M665 842.7h8.6"/></g>
<g class="o"><path d="M698.9 753.3V781.7M698.9 836V858.3M689.4 816.7h19"/><rect x="689.4" y="781.7" width="19" height="54.3"/><path class="c" d="M694.6 753.3h8.6M694.6 858.3h8.6"/></g>
<g class="o"><path d="M728.5 666.7V720M728.5 794V920M719 763.3h19"/><rect x="719" y="720" width="19" height="74"/><path class="c" d="M724.2 666.7h8.6M724.2 920h8.6"/></g>
<g class="p"><path d="M758.1 649.3V656M758.1 674V740M748.6 664h19"/><rect x="748.6" y="656" width="19" height="18"/><path class="c" d="M753.8 649.3h8.6M753.8 740h8.6"/></g>
</g>
<path class="ref" d="M130 788.3H772.7"/>

<!-- Panel F -->
<text class="L" x="1.5" y="1130" textLength="19" lengthAdjust="spacingAndGlyphs">F</text>
<text class="t" x="451" y="1133" textLength="268" lengthAdjust="spacingAndGlyphs">Fourier sigma</text>
<text class="yl" transform="translate(32,1370) rotate(-90) scale(1,1.12)" textLength="270" lengthAdjust="spacingAndGlyphs">Fourier sigma</text>
<line class="dash" x1="307.5" y1="1153" x2="307.5" y2="1582"/>
<line class="dot" x1="475.8" y1="1153" x2="475.8" y2="1576"/>
<line class="dot" x1="644.2" y1="1153" x2="644.2" y2="1576"/>
<path class="ax" d="M130 1150.25V1584.75M112 1582H772.7M112 1153H130M112 1260.25H130M112 1367.5H130M112 1474.75H130"/>
<path class="ax" transform="translate(0,1582)" d="M164.3 0v17M193.9 0v17M223.5 0v17M253.1 0v17M282.7 0v17M332.5 0v17M362.1 0v17M391.7 0v17M421.3 0v17M450.9 0v17M500.7 0v17M530.3 0v17M559.9 0v17M589.5 0v17M619.1 0v17M669.3 0v17M698.9 0v17M728.5 0v17M758.1 0v17"/>
<text class="tk" x="110" y="1163" textLength="62" lengthAdjust="spacingAndGlyphs">0.16</text>
<text class="tk" x="110" y="1270.25" textLength="62" lengthAdjust="spacingAndGlyphs">0.12</text>
<text class="tk" x="110" y="1377.5" textLength="62" lengthAdjust="spacingAndGlyphs">0.08</text>
<text class="tk" x="110" y="1484.75" textLength="62" lengthAdjust="spacingAndGlyphs">0.04</text>
<text class="tk" x="110" y="1592" textLength="62" lengthAdjust="spacingAndGlyphs">0.00</text>
<text class="s" x="164.3 164.3 164.3 164.3" y="1345.7 1363.4 1381.1 1398.8">****</text>
<text class="s" x="193.9 193.9 193.9 193.9" y="1345.7 1363.4 1381.1 1398.8">****</text>
<text class="s" x="253.1 253.1" y="1381.1 1398.8">**</text>
<g class="bx">
<g class="b"><path d="M164.3 1548.3V1566.7M154.8 1573.3h19"/><rect x="154.8" y="1566.7" width="19" height="11" style="fill:#5B8EF0"/><path class="c" d="M160 1548.3h8.6M160 1578.3h8.6"/></g>
<g class="l"><path d="M193.9 1540V1563.3M184.4 1567.3h19"/><rect x="184.4" y="1563.3" width="19" height="14.4" style="fill:#A3C4FA"/><path class="c" d="M189.6 1540h8.6M189.6 1578.3h8.6"/></g>
<g class="g"><path d="M223.5 1405V1516.7M214 1558.3h19"/><rect x="214" y="1516.7" width="19" height="56.6"/><path class="c" d="M219.2 1405h8.6M219.2 1578.3h8.6"/></g>
<g class="y"><path d="M253.1 1499V1549.3M243.6 1568.3h19"/><rect x="243.6" y="1549.3" width="19" height="25.7"/><path class="c" d="M248.8 1499h8.6M248.8 1577.7h8.6"/></g>
<g class="d"><path d="M282.7 1462.3V1539M273.2 1565h19"/><rect x="273.2" y="1539" width="19" height="34.3"/><path class="c" d="M278.4 1462.3h8.6M278.4 1577.7h8.6"/></g>
<g class="o"><path d="M332.5 1470V1539M323 1565h19"/><rect x="323" y="1539" width="19" height="36"/><path class="c" d="M328.2 1470h8.6M328.2 1577.7h8.6"/></g>
<g class="o"><path d="M362.1 1500V1556.7M352.6 1565h19"/><rect x="352.6" y="1556.7" width="19" height="18.3"/><path class="c" d="M357.8 1500h8.6M357.8 1579h8.6"/></g>
<g class="o"><path d="M391.7 1503.3V1536.7M382.2 1563.3h19"/><rect x="382.2" y="1536.7" width="19" height="35.6"/><path class="c" d="M387.4 1503.3h8.6M387.4 1574.3h8.6"/></g>
<g class="o"><path d="M421.3 1441.7V1530M411.8 1565h19"/><rect x="411.8" y="1530" width="19" height="43.3"/><path class="c" d="M417 1441.7h8.6M417 1578.3h8.6"/></g>
<g class="o"><path d="M450.9 1527.7V1556.7M441.4 1565h19"/><rect x="441.4" y="1556.7" width="19" height="16.6"/><path class="c" d="M446.6 1527.7h8.6M446.6 1575h8.6"/></g>
<g class="o"><path d="M500.7 1465V1535.7M500.7 1565V1573.3M491.2 1546.7h19"/><rect x="491.2" y="1535.7" width="19" height="29.3"/><path class="c" d="M496.4 1465h8.6M496.4 1573.3h8.6"/></g>
<g class="o"><path d="M530.3 1473.3V1542.3M520.8 1558.3h19"/><rect x="520.8" y="1542.3" width="19" height="32.7"/><path class="c" d="M526 1473.3h8.6M526 1575.7h8.6"/></g>
<g class="o"><path d="M559.9 1459V1531.7M550.4 1565h19"/><rect x="550.4" y="1531.7" width="19" height="44"/><path class="c" d="M555.6 1459h8.6M555.6 1577.7h8.6"/></g>
<g class="o"><path d="M589.5 1468.3V1556.7M580 1565h19"/><rect x="580" y="1556.7" width="19" height="16.6"/><path class="c" d="M585.2 1468.3h8.6M585.2 1576.7h8.6"/></g>
<g class="p"><path d="M619.1 1186.7V1407.7M619.1 1553.3V1575M609.6 1525h19"/><rect x="609.6" y="1407.7" width="19" height="145.6"/><path class="c" d="M614.8 1186.7h8.6M614.8 1575h8.6"/></g>
<g class="o"><path d="M669.3 1461.7V1545.7M659.8 1561.7h19"/><rect x="659.8" y="1545.7" width="19" height="29.3"/><path class="c" d="M665 1461.7h8.6M665 1577.7h8.6"/></g>
<g class="o"><path d="M698.9 1548.3V1558.3M689.4 1568.3h19"/><rect x="689.4" y="1558.3" width="19" height="17.4"/><path class="c" d="M694.6 1548.3h8.6M694.6 1577.7h8.6"/></g>
<g class="o"><path d="M728.5 1451.7V1531M719 1568.3h19"/><rect x="719" y="1531" width="19" height="44.7"/><path class="c" d="M724.2 1451.7h8.6M724.2 1577.7h8.6"/></g>
<g class="o"><path d="M758.1 1542.3V1548.3M758.1 1566.7V1573.3M748.6 1556.7h19"/><rect x="748.6" y="1548.3" width="19" height="18.4"/><path class="c" d="M753.8 1542.3h8.6M753.8 1573.3h8.6"/></g>
</g>
<path class="ref" d="M130 1562.3H772.7"/>

<!-- X labels right -->
<g>
<text class="xl" transform="translate(175.7,1610) rotate(-90) scale(1,1.08)">Oil paintings (all)</text>
<text class="xl" transform="translate(205.3,1610) rotate(-90) scale(1,1.08)">Oil paintings (subset)</text>
<text class="xl" transform="translate(234.9,1610) rotate(-90) scale(1,1.08)">Graphic art</text>
<text class="xl" transform="translate(264.5,1610) rotate(-90) scale(1,1.08)" font-style="italic">Bad Art</text>
<text class="xl" transform="translate(294.1,1610) rotate(-90) scale(1,1.08)">All patients</text>
<text class="xl" transform="translate(343.9,1610) rotate(-90) scale(1,1.08)">Blankenhorn</text>
<text class="xl" transform="translate(373.5,1610) rotate(-90) scale(1,1.08)">Bühler</text>
<text class="xl" transform="translate(403.1,1610) rotate(-90) scale(1,1.08)">Faulhaber</text>
<text class="xl" transform="translate(432.7,1610) rotate(-90) scale(1,1.08)">Goesch</text>
<text class="xl" transform="translate(462.3,1610) rotate(-90) scale(1,1.08)">Grube</text>
<text class="xl" transform="translate(512.1,1610) rotate(-90) scale(1,1.08)">Hack</text>
<text class="xl" transform="translate(541.7,1610) rotate(-90) scale(1,1.08)">Herzberg</text>
<text class="xl" transform="translate(571.3,1610) rotate(-90) scale(1,1.08)">Klett</text>
<text class="xl" transform="translate(600.9,1610) rotate(-90) scale(1,1.08)">Meyer</text>
<text class="xl" transform="translate(630.5,1610) rotate(-90) scale(1,1.08)">Natterer</text>
<text class="xl" transform="translate(680.7,1610) rotate(-90) scale(1,1.08)">Schneller</text>
<text class="xl" transform="translate(710.3,1610) rotate(-90) scale(1,1.08)">Voll</text>
<text class="xl" transform="translate(739.9,1610) rotate(-90) scale(1,1.08)">von Oertzen</text>
<text class="xl" transform="translate(769.5,1610) rotate(-90) scale(1,1.08)">Zinoview</text>
</g>
</g>
</svg>
</body></html>
